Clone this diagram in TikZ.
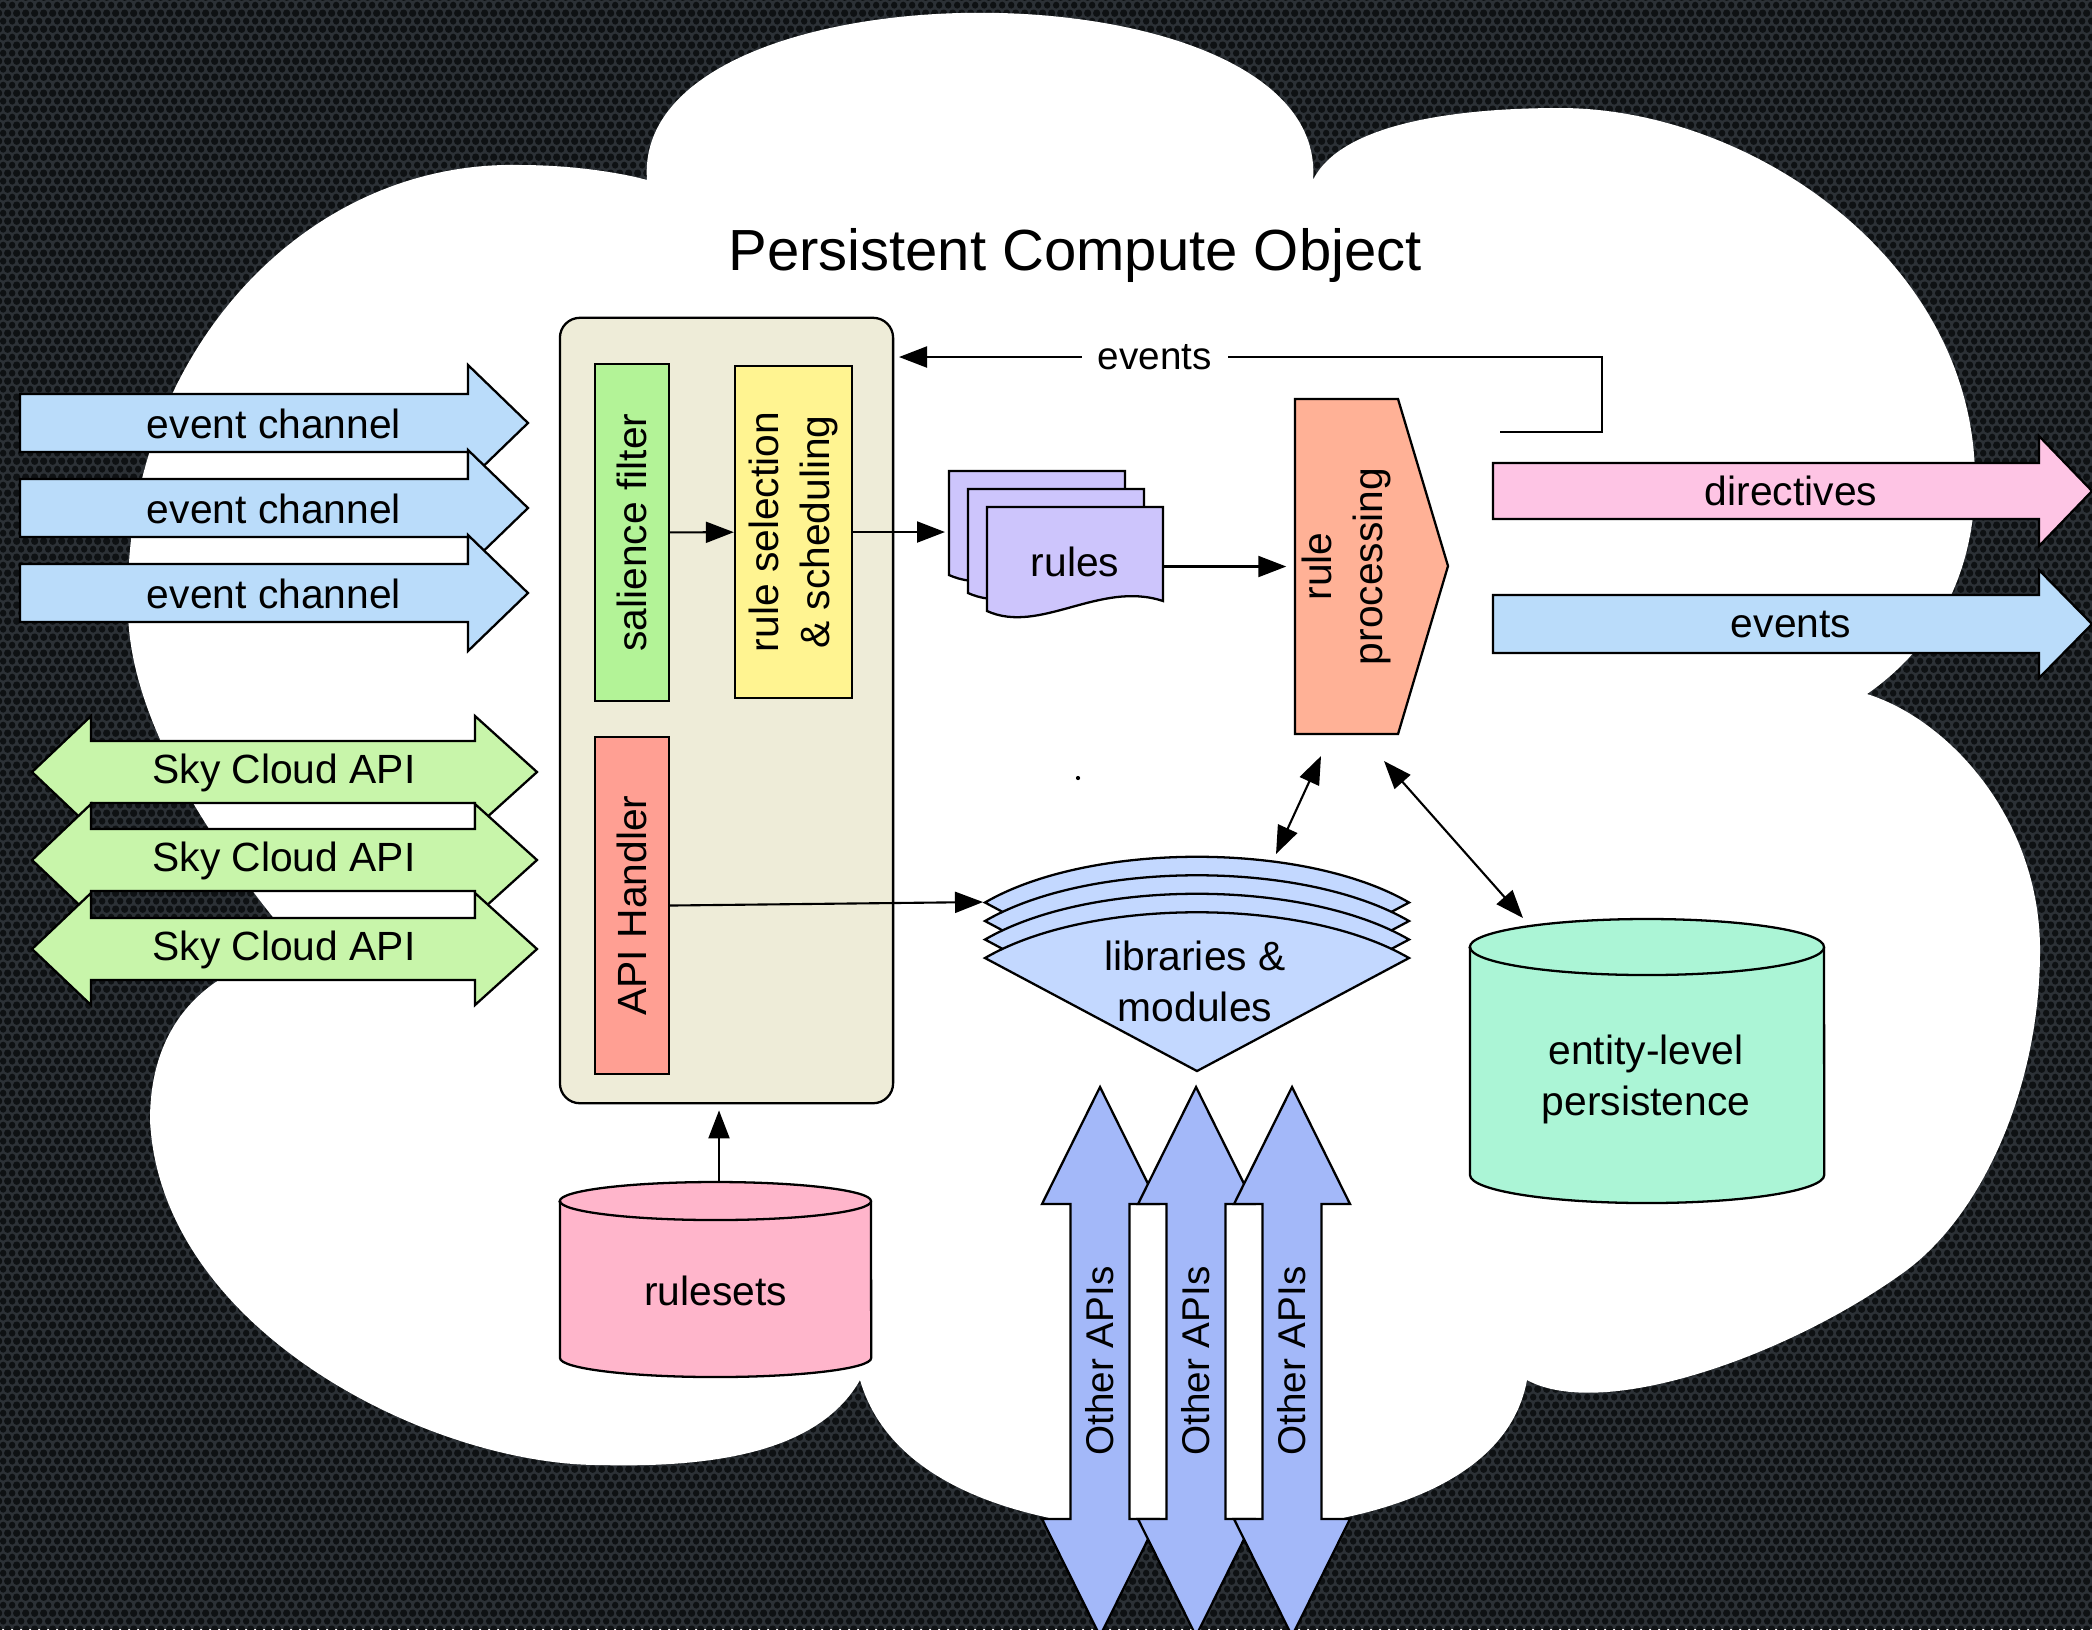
\documentclass[tikz,border=0pt]{standalone}
\usepackage{graphicx}
\usepackage{fontspec}
\setmainfont{Liberation Sans}
\usetikzlibrary{arrows.meta,patterns.meta}

\definecolor{bgdark}{HTML}{2C3136}
\definecolor{bghole}{HTML}{0E1113}
\definecolor{chanblue}{HTML}{BADCFA}
\definecolor{apigreen}{HTML}{C8F5AA}
\definecolor{dirpink}{HTML}{FEC4E4}
\definecolor{pcobeige}{HTML}{EEECD8}
\definecolor{salgreen}{HTML}{B3F397}
\definecolor{selyellow}{HTML}{FFF491}
\definecolor{apired}{HTML}{FF9F93}
\definecolor{rulelilac}{HTML}{CDC5FC}
\definecolor{procorange}{HTML}{FFB196}
\definecolor{libblue}{HTML}{C3D8FF}
\definecolor{persmint}{HTML}{ABF5D6}
\definecolor{rspink}{HTML}{FFB5CB}
\definecolor{otherblue}{HTML}{A3B8F9}

\tikzdeclarepattern{
  name=mesh,
  type=uncolored,
  bottom left={(0pt,0pt)},
  top right={(2.6pt,4.5pt)},
  tile size={(2.6pt,4.5pt)},
  code={
    \fill (0pt,0pt) circle[radius=1pt];
    \fill (2.6pt,0pt) circle[radius=1pt];
    \fill (0pt,4.5pt) circle[radius=1pt];
    \fill (2.6pt,4.5pt) circle[radius=1pt];
    \fill (1.3pt,2.25pt) circle[radius=1pt];
  }
}

\begin{document}
\begin{tikzpicture}[x=0.01cm,y=-0.01cm,
  every node/.style={font=\fontsize{11.6}{14.5}\selectfont,inner sep=0pt},
  outl/.style={draw=black,line width=0.65pt},
  arr/.style={line width=0.6pt,-{Triangle[length=0.28cm,width=0.21cm]}},
  biarr/.style={line width=0.6pt,{Triangle[length=0.28cm,width=0.21cm]}-{Triangle[length=0.28cm,width=0.21cm]}}]
\useasboundingbox (0,0) rectangle (2092,1629);
\fill[bgdark] (0,0) rectangle (2092,1629);
\fill[pattern=mesh,pattern color=bghole] (0,0) rectangle (2092,1629);
% cloud
\fill[white] (647,180) .. controls (630,-43) and (1330,-43) .. (1313,180)
  .. controls (1340,125) and (1450,108) .. (1560,108)
  .. controls (1750,108) and (1975,260) .. (1975,480)
  .. controls (1975,580) and (1930,650) .. (1867,694)
  .. controls (1950,720) and (2040,820) .. (2040,950)
  .. controls (2040,1090) and (1980,1220) .. (1900,1275)
  .. controls (1780,1360) and (1600,1420) .. (1527,1380)
  .. controls (1505,1500) and (1330,1532) .. (1195,1532)
  .. controls (1060,1532) and (895,1500) .. (860,1380)
  .. controls (820,1450) and (720,1468) .. (600,1465)
  .. controls (430,1465) and (160,1330) .. (150,1120)
  .. controls (150,1020) and (210,965) .. (300,950)
  .. controls (190,820) and (125,700) .. (128,600)
  .. controls (125,360) and (300,160) .. (520,165)
  .. controls (580,165) and (630,175) .. (647,180) -- cycle;
\fill (1078,778) circle[radius=0.6pt];
\node[font=\fontsize{16.5}{20}\selectfont] (title) at (1075,255) {Persistent Compute Object};
% incoming channels
\draw[outl,fill=chanblue] (20,394) -- (468,394) -- (468,365) -- (528,423) -- (468,481) -- (468,452) -- (20,452) -- cycle;
\node (chan1) at (274,424) {event channel};
\draw[outl,fill=chanblue] (20,479) -- (468,479) -- (468,450) -- (528,508) -- (468,566) -- (468,537) -- (20,537) -- cycle;
\node (chan2) at (274,509) {event channel};
\draw[outl,fill=chanblue] (20,564) -- (468,564) -- (468,535) -- (528,593) -- (468,651) -- (468,622) -- (20,622) -- cycle;
\node (chan3) at (274,594) {event channel};
\draw[outl,fill=apigreen] (32,772) -- (91,716) -- (91,741) -- (475,741) -- (475,716) -- (537,772) -- (475,828) -- (475,803) -- (91,803) -- (91,828) -- cycle;
\node (sky1) at (284,773) {Sky Cloud API};
\draw[outl,fill=apigreen] (32,860) -- (91,804) -- (91,829) -- (475,829) -- (475,804) -- (537,860) -- (475,916) -- (475,891) -- (91,891) -- (91,916) -- cycle;
\node (sky2) at (284,861) {Sky Cloud API};
\draw[outl,fill=apigreen] (32,949) -- (91,893) -- (91,918) -- (475,918) -- (475,893) -- (537,949) -- (475,1005) -- (475,980) -- (91,980) -- (91,1005) -- cycle;
\node (sky3) at (284,950) {Sky Cloud API};
% the object
\node[outl,fill=pcobeige,rounded corners=0.2cm,minimum width=3.33cm,minimum height=7.85cm] (pco) at (726.5,710.5) {};
\node[outl,fill=salgreen,minimum width=0.74cm,minimum height=3.37cm] (sal) at (632,532.5) {\rotatebox{90}{salience filter}};
\node[outl,fill=selyellow,minimum width=1.17cm,minimum height=3.32cm] (rsel) at (793.5,532) {\rotatebox{90}{\begin{tabular}{@{}c@{}}rule selection\\ \& scheduling\end{tabular}}};
\node[outl,fill=apired,minimum width=0.74cm,minimum height=3.37cm] (api) at (632,905.5) {\rotatebox{90}{API Handler}};
% rules
\draw[outl,fill=rulelilac] (949,471) -- (1125,471) -- (1125,565) .. controls (1062,544) and (1002,599) .. (949,575) -- cycle;
\draw[outl,fill=rulelilac] (968,489) -- (1144,489) -- (1144,583) .. controls (1081,562) and (1021,617) .. (968,593) -- cycle;
\draw[outl,fill=rulelilac] (987,507) -- (1163,507) -- (1163,601) .. controls (1100,580) and (1040,635) .. (987,611) -- cycle;
\node[minimum width=1.76cm,minimum height=1.04cm] (rules) at (1075,562) {rules};
\coordinate (rulesin) at (945,532);
\draw[outl,fill=procorange] (1295,399) -- (1398,399) -- (1448,566) -- (1398,734) -- (1295,734) -- cycle;
\node[minimum width=1.03cm,minimum height=3.35cm] (rproc) at (1346.5,566.5) {\rotatebox{90}{\begin{tabular}{@{}c@{}}rule\\processing\end{tabular}}};
% outgoing
\draw[outl,fill=dirpink] (1493,463) -- (2039,463) -- (2039,436) -- (2092,491) -- (2039,546) -- (2039,519) -- (1493,519) -- cycle;
\node (dirs) at (1791,491) {directives};
\draw[outl,fill=chanblue] (1493,595) -- (2039,595) -- (2039,570) -- (2092,624) -- (2039,678) -- (2039,653) -- (1493,653) -- cycle;
\node (evout) at (1791,624) {events};
% libraries & modules
\draw[outl,fill=libblue] (985,902.5) .. controls (1090,841.5) and (1304,841.5) .. (1409,902.5) -- (1197,1015.5) -- cycle;
\draw[outl,fill=libblue] (985,921) .. controls (1090,860) and (1304,860) .. (1409,921) -- (1197,1034) -- cycle;
\draw[outl,fill=libblue] (985,939.5) .. controls (1090,878.5) and (1304,878.5) .. (1409,939.5) -- (1197,1052.5) -- cycle;
\draw[outl,fill=libblue] (985,958) .. controls (1090,897) and (1304,897) .. (1409,958) -- (1197,1071) -- cycle;
\node[align=center] (libs) at (1195,981) {libraries \&\\modules};
\coordinate (libin) at (983,902);
\coordinate (libtop) at (1276,854);
% stores
\draw[outl,fill=persmint] (1470,947) -- (1470,1175) arc[start angle=180,end angle=360,x radius=1.77cm,y radius=0.28cm] -- (1824,947) arc[start angle=0,end angle=180,x radius=1.77cm,y radius=0.28cm] -- cycle;
\draw[outl] (1470,947) arc[start angle=180,end angle=360,x radius=1.77cm,y radius=0.28cm];
\node[align=center] (pers) at (1646,1079) {entity-level\\persistence};
\coordinate (perstop) at (1523,918);
\draw[outl,fill=rspink] (560,1201) -- (560,1358) arc[start angle=180,end angle=360,x radius=1.555cm,y radius=0.19cm] -- (871,1201) arc[start angle=0,end angle=180,x radius=1.555cm,y radius=0.19cm] -- cycle;
\draw[outl] (560,1201) arc[start angle=180,end angle=360,x radius=1.555cm,y radius=0.19cm];
\node (rulesets) at (715.5,1291) {rulesets};
\coordinate (rstop) at (719,1182);
% other APIs
\draw[outl,fill=otherblue] (1100,1087) -- (1158,1204) -- (1129.5,1204) -- (1129.5,1519) -- (1158,1519) -- (1100,1636) -- (1042,1519) -- (1070.5,1519) -- (1070.5,1204) -- (1042,1204) -- cycle;
\node[font=\fontsize{11}{13}\selectfont] (oapi1) at (1100,1361) {\rotatebox{90}{Other APIs}};
\draw[outl,fill=otherblue] (1196,1087) -- (1254,1204) -- (1225.5,1204) -- (1225.5,1519) -- (1254,1519) -- (1196,1636) -- (1138,1519) -- (1166.5,1519) -- (1166.5,1204) -- (1138,1204) -- cycle;
\node[font=\fontsize{11}{13}\selectfont] (oapi2) at (1196,1361) {\rotatebox{90}{Other APIs}};
\draw[outl,fill=otherblue] (1292,1087) -- (1350,1204) -- (1321.5,1204) -- (1321.5,1519) -- (1350,1519) -- (1292,1636) -- (1234,1519) -- (1262.5,1519) -- (1262.5,1204) -- (1234,1204) -- cycle;
\node[font=\fontsize{11}{13}\selectfont] (oapi3) at (1292,1361) {\rotatebox{90}{Other APIs}};
% connectors
\coordinate (fbstart) at (1500,432);
\coordinate (fbend) at (899,357);
\coordinate (rpdown) at (1321,756);
\coordinate (rpdown2) at (1384,761);
\draw[arr] (sal) -- (rsel);
\draw[arr] (rsel.east) -- (rulesin);
\draw[arr] (rules.east |- rproc.west) -- ([xshift=-0.08cm]rproc.west);
\draw[arr] (fbstart) -- (1602,432) |- node[pos=0.818,fill=white,inner xsep=0.16cm,inner ysep=0.04cm,font=\fontsize{11}{13}\selectfont] (fblabel) {events} (fbend);
\draw[arr] (api.east) -- (libin);
\draw[biarr] (rpdown) -- (libtop);
\draw[biarr] (rpdown2) -- (perstop);
\draw[arr] (rstop) -- ([yshift=-0.06cm]rstop |- pco.south);
\end{tikzpicture}
\end{document}
